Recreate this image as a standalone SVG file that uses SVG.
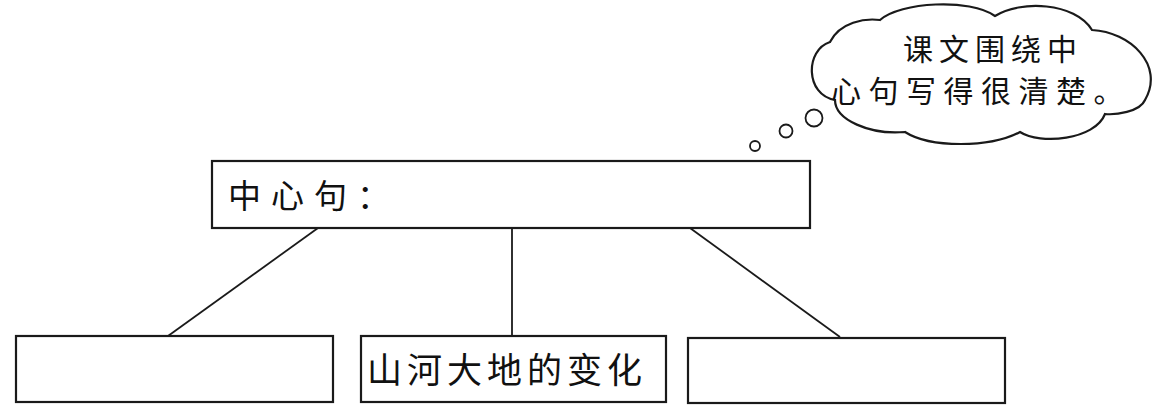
<svg xmlns="http://www.w3.org/2000/svg" width="1165" height="411" viewBox="0 0 1165 411">
<style>
.box{fill:#fff;stroke:#1a1a1a;stroke-width:2.2}
.ln{stroke:#1a1a1a;stroke-width:1.8;fill:none}
.t{font-family:"Noto Sans CJK SC","Noto Sans CJK TC",sans-serif;fill:#111}
</style>
<rect width="1165" height="411" fill="#fff"/>
<g id="connectors">
<line class="ln" x1="318" y1="228" x2="168" y2="336"/>
<line class="ln" x1="512" y1="228" x2="512" y2="336"/>
<line class="ln" x1="690" y1="228" x2="840" y2="337"/>
</g>
<g id="thought">
<path class="box" d="M 830 42 C 840 22, 865 18, 880 20 C 900 2, 970 -2, 995 16 C 1020 0, 1075 2, 1092 30 C 1130 32, 1165 65, 1145 100 C 1140 112, 1115 115, 1105 114 C 1095 140, 1040 145, 1020 132 C 990 148, 930 148, 905 132 C 870 135, 835 120, 835 100 C 805 95, 805 50, 830 42 Z"/>
<circle class="box" cx="814" cy="118" r="8.5" style="stroke-width:1.8"/>
<circle class="box" cx="786" cy="131" r="6.5" style="stroke-width:1.8"/>
<circle class="box" cx="755" cy="146" r="5" style="stroke-width:1.8"/>
<text class="t" x="903" y="60" font-size="30" letter-spacing="6">课文围绕中</text>
<text class="t" x="831" y="102" font-size="30" letter-spacing="7.5">心句写得很清楚。</text>
</g>
<g id="main">
<rect class="box" x="212" y="161" width="598" height="67"/>
<text class="t" x="228" y="208" font-size="33" letter-spacing="10">中心句：</text>
</g>
<g id="left">
<rect class="box" x="16" y="336" width="317" height="66"/>
</g>
<g id="middle">
<rect class="box" x="361" y="336" width="305" height="66"/>
<text class="t" x="367" y="383" font-size="35" letter-spacing="5">山河大地的变化</text>
</g>
<g id="right">
<rect class="box" x="688" y="338" width="317" height="65"/>
</g>
</svg>
